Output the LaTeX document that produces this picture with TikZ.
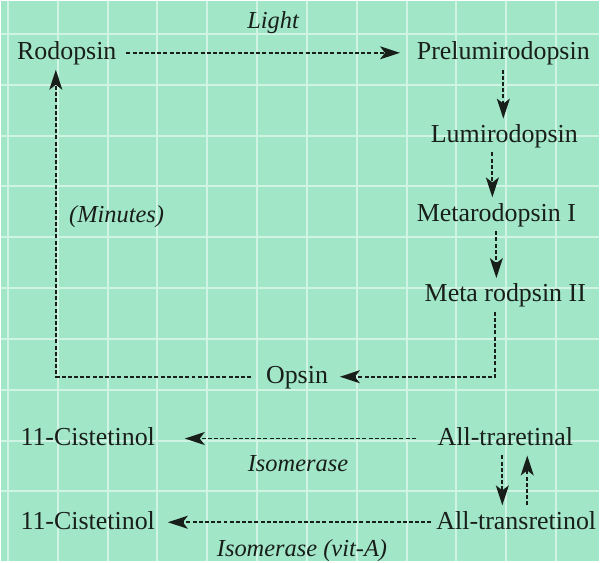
\documentclass[tikz,border=0pt]{standalone}
\usepackage{fontspec}
\setmainfont{Liberation Serif}
\usetikzlibrary{arrows.meta,calc}
\definecolor{bg}{RGB}{162,230,200}
\definecolor{gridc}{RGB}{208,244,228}
\definecolor{ink}{RGB}{24,30,26}
\begin{document}
\begin{tikzpicture}[x=1pt,y=-1pt,
  lbl/.style={font=\fontsize{26}{30}\selectfont, text=ink, anchor=base, inner sep=5pt, outer sep=0pt, text height=19pt, text depth=5pt},
  itl/.style={font=\fontsize{24.5}{28}\selectfont\itshape, text=ink, anchor=base, inner sep=0pt},
  arr/.style={draw=ink, line width=1.8pt, dash pattern=on 4pt off 2.2pt, -{Stealth[length=20pt,width=13pt,inset=5pt]}}]
\fill[bg] (0,0) rectangle (600,562);
\foreach \x in {7,57,...,557} \draw[gridc, line width=2pt] (\x,0) -- (\x,562);
\foreach \y in {33,84,...,540} \draw[gridc, line width=2pt] (0,\y) -- (600,\y);
\useasboundingbox (0,0) rectangle (600,562);

\node[lbl] (rod) at (66,59) {Rodopsin};
\node[lbl] (pre) at (504,59) {Prelumirodopsin};
\node[lbl] (lum) at (505,142) {Lumirodopsin};
\node[lbl] (m1) at (497,221) {Metarodopsin I};
\node[lbl] (m2) at (506,302) {Meta rodpsin II};
\node[lbl] (ops) at (297,384) {Opsin};
\node[lbl] (c1) at (87,446) {11-Cistetinol};
\node[lbl] (ar) at (506,446) {All-traretinal};
\node[lbl] (c2) at (87,530) {11-Cistetinol};
\node[lbl] (at) at (517,530) {All-transretinol};

\node[itl] (light) at (273,28) {Light};
\node[itl] (minutes) at (116,222) {(Minutes)};
\node[itl] (iso1) at (298,472) {Isomerase};
\node[itl] (iso2) at (302,557) {Isomerase (vit-A)};

\draw[arr] ([xshift=5pt]rod.east) -- ([xshift=-12pt]pre.west);
\draw[arr] (pre.south) -- (pre.south |- lum.north);
\draw[arr] ([xshift=-12pt]lum.south) -- ([xshift=-12pt]lum.south |- m1.north);
\draw[arr] (m1.south) -- (m1.south |- m2.north);
\draw[arr] ([xshift=-10pt]m2.south) |- ([xshift=7pt]ops.east);
\draw[arr] ([xshift=-10pt]ops.west) -| ([xshift=-11pt]rod.south);
\draw[arr] ([xshift=-17pt]ar.west) -- ([xshift=25pt]c1.east);
\draw[arr] (at.west) -- ([xshift=8pt]c2.east);
\draw[arr] ([xshift=-3pt]ar.south) -- ([xshift=-3pt]ar.south |- at.north);
\draw[arr] ([xshift=22pt]ar.south |- at.north) -- ([xshift=22pt]ar.south);
\end{tikzpicture}
\end{document}
